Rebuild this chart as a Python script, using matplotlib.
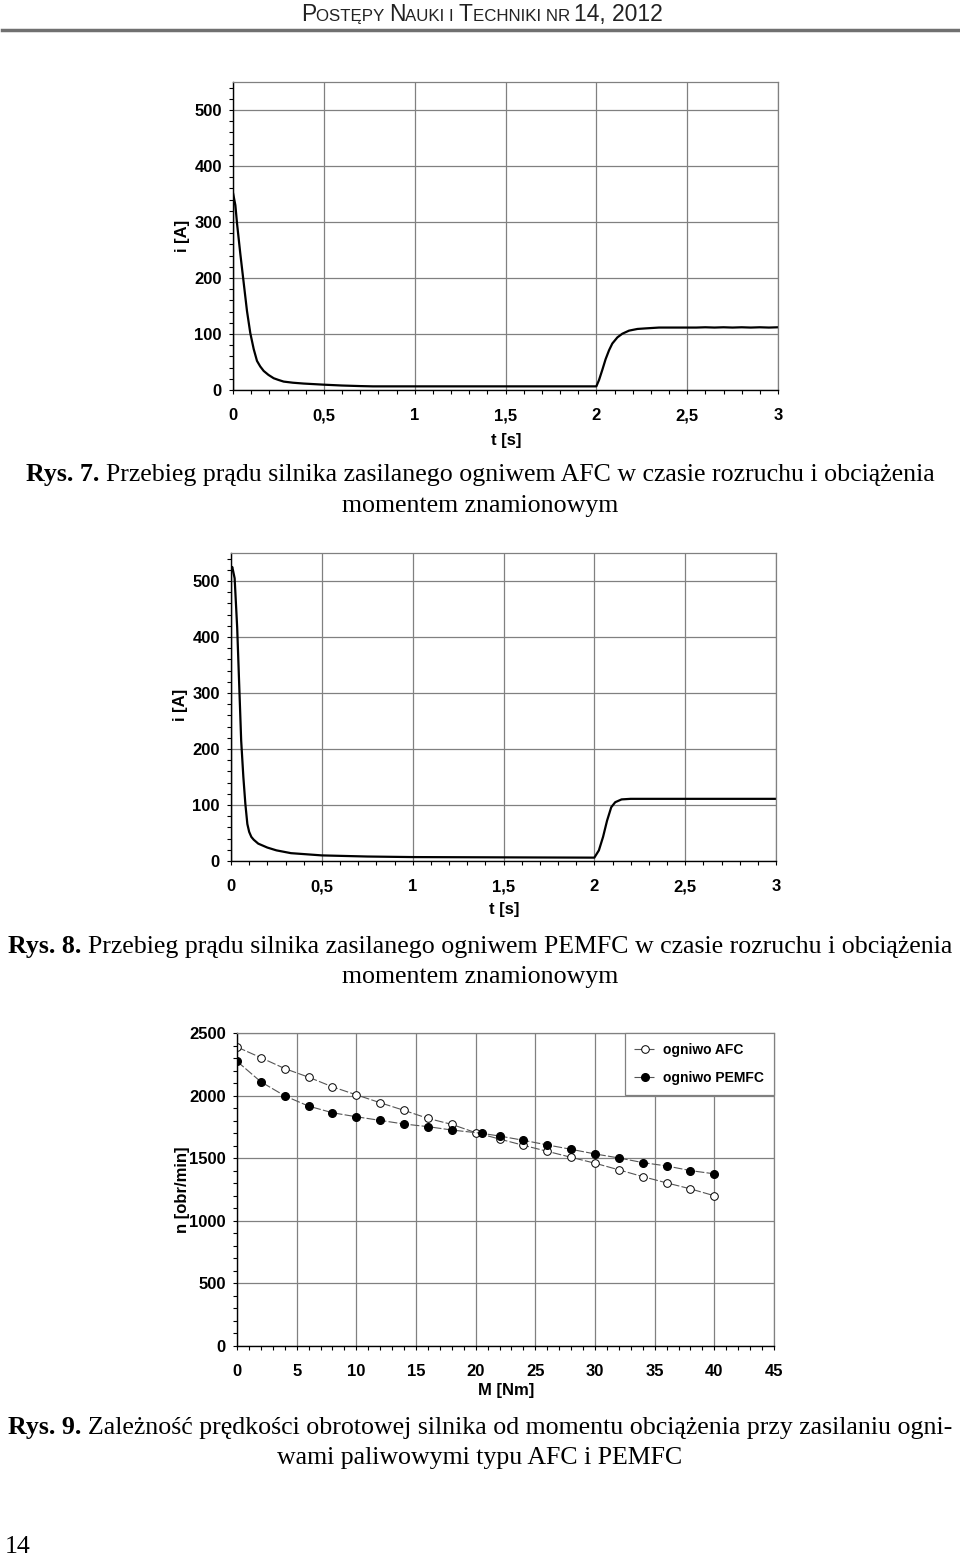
import matplotlib
matplotlib.use('Agg')
import matplotlib.pyplot as plt
from matplotlib.ticker import MultipleLocator, FuncFormatter

# Rys. 7 - current of the motor fed from AFC cell
t_afc = [0, 0, 0.013, 0.022, 0.04, 0.059, 0.077, 0.095, 0.114, 0.132, 0.15, 0.169, 0.195,
         0.224, 0.25, 0.279, 0.33, 0.389, 0.5, 0.6, 0.7, 0.77, 1.0, 1.5, 2.0,
         2.015, 2.033, 2.051, 2.07, 2.088, 2.116, 2.143, 2.18, 2.226, 2.27, 2.345, 2.45,
         2.55, 2.6, 2.65, 2.7, 2.75, 2.8, 2.85, 2.9, 2.95, 3.0]
i_afc = [0, 352, 330, 298, 244, 191, 141, 102, 73, 52, 42, 34, 27,
         21, 18, 15, 13, 11.5, 9.5, 8, 7, 6.5, 6.5, 6.5, 6.5,
         18, 36, 55, 71, 83, 94, 100.5, 106, 109, 110, 111.5, 111.5,
         111.5, 112, 111.5, 112, 111.5, 112, 111.5, 112, 111.5, 112]

# Rys. 8 - current of the motor fed from PEMFC cell
t_pem = [0, 0, 0.007, 0.02, 0.034, 0.045, 0.056, 0.068, 0.079, 0.09, 0.1, 0.112, 0.125,
         0.15, 0.2, 0.25, 0.33, 0.5, 0.75, 1.0, 1.5, 2.0, 2.025, 2.048, 2.07, 2.093,
         2.115, 2.15, 2.2, 2.5, 3.0]
i_pem = [0, 520, 525, 505, 417, 316, 215, 150, 102, 66, 52, 43, 38,
         31, 24, 19, 14, 10, 8, 7, 6.5, 6, 19, 43, 72, 96,
         105, 110, 111, 111, 111]

# Rys. 9 - speed vs load torque
M_afc = [0, 2, 4, 6, 8, 10, 12, 14, 16, 18, 20, 22, 24, 26, 28, 30, 32, 34, 36, 38, 40]
n_afc = [2388, 2303, 2216, 2147, 2070, 2006, 1943, 1882, 1818, 1770, 1704, 1653, 1603,
         1555, 1507, 1460, 1407, 1353, 1303, 1255, 1200]
M_pem = [0, 2, 4, 6, 8, 10, 12, 14, 16, 18, 20.5, 22, 24, 26, 28, 30, 32, 34, 36, 38, 40]
n_pem = [2274, 2110, 1998, 1916, 1863, 1831, 1802, 1773, 1752, 1725, 1699, 1677, 1643,
         1606, 1571, 1534, 1502, 1465, 1438, 1401, 1375]

W, H = 960, 1557
fig = plt.figure(figsize=(W / 100, H / 100), dpi=100)
renderer = fig.canvas.get_renderer()

SANS = ['Liberation Sans', 'DejaVu Sans']
SERIF = ['Liberation Serif', 'DejaVu Serif']
GRID = '#808080'


def fx(px):
    return px / W


def fy(py):
    return 1 - py / H


def make_axes(left, right, top, bottom):
    return fig.add_axes([fx(left), fy(bottom), (right - left) / W, (bottom - top) / H])


def comma(v, pos):
    return ('%g' % v).replace('.', ',')


def style_axes(ax, xmaj, xmin, ymaj, ymin):
    ax.xaxis.set_major_locator(MultipleLocator(xmaj))
    ax.xaxis.set_minor_locator(MultipleLocator(xmin))
    ax.yaxis.set_major_locator(MultipleLocator(ymaj))
    ax.yaxis.set_minor_locator(MultipleLocator(ymin))
    ax.xaxis.set_major_formatter(FuncFormatter(comma))
    ax.grid(True, which='major', color=GRID, linewidth=0.9)
    ax.set_axisbelow(True)
    ax.tick_params(which='both', direction='out', length=3, width=0.8, color='black')
    ax.tick_params(axis='x', which='major', pad=10)
    ax.tick_params(axis='y', which='major', pad=5)
    for lab in ax.get_xticklabels() + ax.get_yticklabels():
        lab.set_fontfamily(SANS)
        lab.set_fontweight('bold')
        lab.set_fontsize(12)
    for side in ['top', 'right']:
        ax.spines[side].set_color(GRID)
        ax.spines[side].set_linewidth(0.9)
    for side in ['left', 'bottom']:
        ax.spines[side].set_color('black')
        ax.spines[side].set_linewidth(1.0)


def label(px, py, s, rot=0):
    fig.text(fx(px), fy(py), s, ha='center', va='center', rotation=rot,
             family=SANS, weight='bold', fontsize=12)


def draw_runs(runs, py, cx=480, color='black'):
    texts = []
    for s, props in runs:
        t = fig.text(0, fy(py), s, ha='left', va='baseline', color=color, **props)
        texts.append(t)
    widths = [t.get_window_extent(renderer).width for t in texts]
    x = cx - sum(widths) / 2
    for t, w in zip(texts, widths):
        t.set_x(fx(x))
        x += w


# header
big = dict(family=SANS, fontsize=16.5)
small = dict(family=SANS, fontsize=12.2)
draw_runs([('P', big), ('OSTĘPY ', small), ('N', big), ('AUKI I ', small),
           ('T', big), ('ECHNIKI NR ', small), ('14, 2012', big)], 21, cx=482, color='#222222')
fig.add_artist(plt.Line2D([fx(2), fx(958)], [fy(30), fy(30)], color='#707070', linewidth=2.5))

# chart 1
ax1 = make_axes(233, 778, 82, 390)
ax1.plot(t_afc, i_afc, color='black', linewidth=1.6)
ax1.set_xlim(0, 3)
ax1.set_ylim(0, 550)
style_axes(ax1, 0.5, 0.1, 100, 20)
label(182, 236, 'i [A]', rot=90)
label(506, 440, 't [s]')

cap = dict(family=SERIF, fontsize=18.6)
capb = dict(family=SERIF, fontsize=18.6, weight='bold')
draw_runs([('Rys. 7. ', capb),
           ('Przebieg prądu silnika zasilanego ogniwem AFC w czasie rozruchu i obciążenia', cap)], 481)
draw_runs([('momentem znamionowym', cap)], 512)

# chart 2
ax2 = make_axes(231, 776, 553, 861)
ax2.plot(t_pem, i_pem, color='black', linewidth=1.6)
ax2.set_xlim(0, 3)
ax2.set_ylim(0, 550)
style_axes(ax2, 0.5, 0.1, 100, 20)
label(180, 705, 'i [A]', rot=90)
label(504, 910, 't [s]')

draw_runs([('Rys. 8. ', capb),
           ('Przebieg prądu silnika zasilanego ogniwem PEMFC w czasie rozruchu i obciążenia', cap)], 953)
draw_runs([('momentem znamionowym', cap)], 983)

# chart 3
ax3 = make_axes(237, 774, 1033, 1346)
ax3.plot(M_afc, n_afc, color='#555555', linewidth=0.8, linestyle=(0, (8, 2)),
         marker='o', markersize=5.5, markerfacecolor='white', markeredgecolor='black',
         markeredgewidth=0.7, label='ogniwo AFC')
ax3.plot(M_pem, n_pem, color='#555555', linewidth=0.8, linestyle=(0, (8, 2)),
         marker='o', markersize=5.5, markerfacecolor='black', markeredgecolor='black',
         label='ogniwo PEMFC')
ax3.set_xlim(0, 45)
ax3.set_ylim(0, 2500)
style_axes(ax3, 5, 1, 500, 100)
ax3.xaxis.set_major_formatter(FuncFormatter(lambda v, p: '%d' % v))
leg = ax3.legend(loc='upper right', bbox_to_anchor=(1.0, 1.0), borderaxespad=0,
                 fancybox=False, framealpha=1, edgecolor='#808080', handlelength=1.6,
                 handletextpad=0.5, borderpad=0.7, labelspacing=1.05,
                 prop=dict(family=SANS, weight='bold', size=10))
leg.get_frame().set_linewidth(0.9)
label(182, 1190, 'n [obr/min]', rot=90)
label(506, 1390, 'M [Nm]')

draw_runs([('Rys. 9. ', capb),
           ('Zależność prędkości obrotowej silnika od momentu obciążenia przy zasilaniu ogni-', cap)], 1434)
draw_runs([('wami paliwowymi typu AFC i PEMFC', cap)], 1464)

# page number
fig.text(fx(18), fy(1553), '14', ha='center', va='baseline', family=SERIF, fontsize=18.6)

plt.savefig('out.png', dpi=100)
